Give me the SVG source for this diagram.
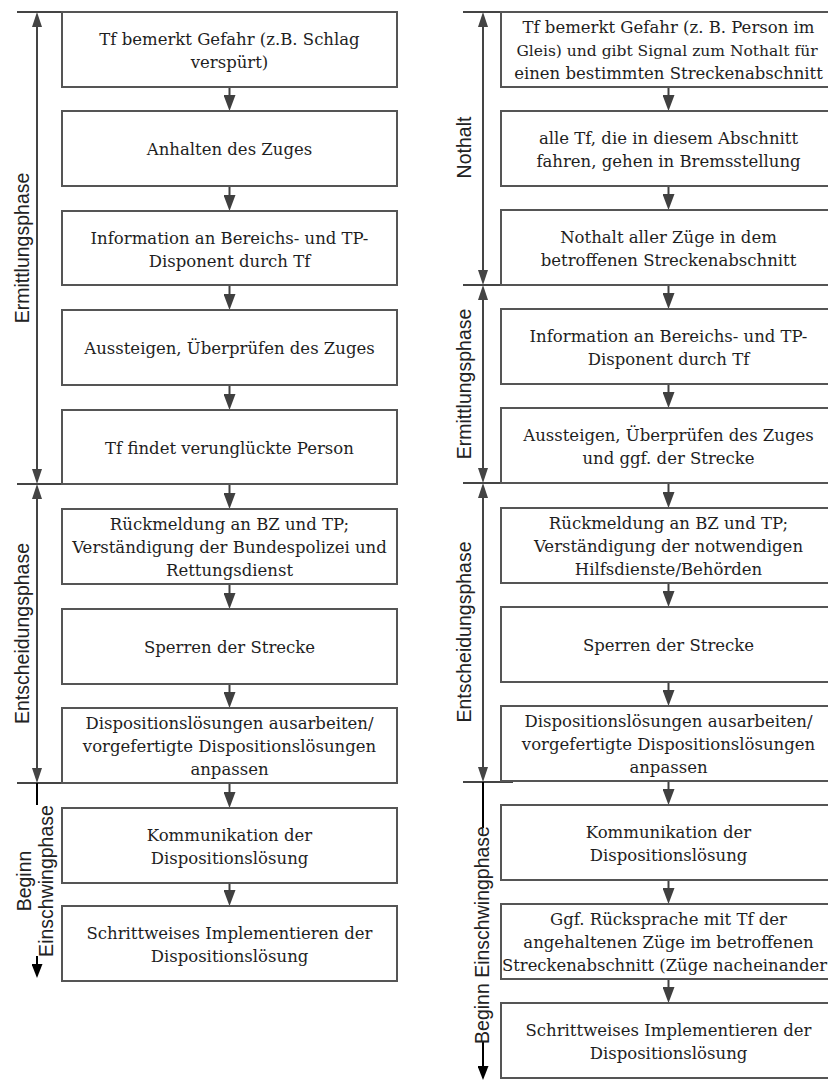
<svg xmlns="http://www.w3.org/2000/svg" width="828" height="1082" viewBox="0 0 828 1082">
<style>
.box{fill:#fff;stroke:#555;stroke-width:2}
.t{font-family:"DejaVu Serif","Liberation Serif",serif;font-size:16.5px;fill:#1e1e1e;text-anchor:middle}
.ts{font-family:"DejaVu Serif","Liberation Serif",serif;font-size:16.5px;fill:#1e1e1e;text-anchor:start}
.lbl{font-family:"Liberation Sans",Arial,sans-serif;font-size:19.5px;fill:#222;text-anchor:middle}
.flow{stroke:#404040;stroke-width:2;fill:none;marker-end:url(#ah)}
.br{stroke:#444;stroke-width:2;fill:none;marker-start:url(#bh);marker-end:url(#bh)}
.sep{stroke:#444;stroke-width:2;fill:none}
.blk{stroke:#000;stroke-width:2;fill:none}
.blka{stroke:#000;stroke-width:2;fill:none;marker-end:url(#kh)}
</style>
<defs>
<marker id="ah" viewBox="0 0 16 12" markerWidth="16" markerHeight="12" refX="10" refY="6" markerUnits="userSpaceOnUse" orient="auto"><path d="M0,0 L16,6 L0,12 z" fill="#404040"/></marker>
<marker id="bh" viewBox="0 0 15 10" markerWidth="15" markerHeight="10" refX="9" refY="5" markerUnits="userSpaceOnUse" orient="auto-start-reverse"><path d="M0,0 L15,5 L0,10 z" fill="#444"/></marker>
<marker id="kh" viewBox="0 0 14 11" markerWidth="14" markerHeight="11" refX="8" refY="5.5" markerUnits="userSpaceOnUse" orient="auto"><path d="M0,0 L14,5.5 L0,11 z" fill="#000"/></marker>
</defs>

<g id="connectors">
<path class="flow" d="M229.5,87 V105"/>
<path class="flow" d="M229.5,186 V205"/>
<path class="flow" d="M229.5,285 V304"/>
<path class="flow" d="M229.5,385 V404"/>
<path class="flow" d="M229.5,485 V503"/>
<path class="flow" d="M229.5,584 V603"/>
<path class="flow" d="M229.5,684 V702"/>
<path class="flow" d="M229.5,783 V802"/>
<path class="flow" d="M229.5,883 V900"/>
<path class="flow" d="M668.5,87 V105"/>
<path class="flow" d="M668.5,186 V204"/>
<path class="flow" d="M668.5,285 V303"/>
<path class="flow" d="M668.5,384 V402"/>
<path class="flow" d="M668.5,483 V502"/>
<path class="flow" d="M668.5,583 V601"/>
<path class="flow" d="M668.5,682 V700"/>
<path class="flow" d="M668.5,781 V799"/>
<path class="flow" d="M668.5,880 V898"/>
<path class="flow" d="M668.5,979 V997"/>
</g>

<g id="phase-brackets">
<path class="br" d="M37,18 V478"/>
<path class="br" d="M37,490 V777"/>
<path class="sep" d="M17,12 H78 M17,484 H62 M17,783 H62"/>
<path class="blk" d="M37,783 V805"/>
<path class="blka" d="M37,956 V972"/>
<path class="br" d="M483,18 V279"/>
<path class="br" d="M483,291 V477"/>
<path class="br" d="M483,489 V776"/>
<path class="sep" d="M463,12 H508 M463,285 H508 M463,483 H509 M463,782 H513"/>
<path class="blk" d="M483,782 V828"/>
<path class="blka" d="M483,1042 V1074"/>
</g>

<g id="phase-labels">
<text class="lbl" transform="translate(29,248) rotate(-90)">Ermittlungsphase</text>
<text class="lbl" transform="translate(29,633.5) rotate(-90)">Entscheidungsphase</text>
<text class="lbl" transform="translate(31,881) rotate(-90)">Beginn</text>
<text class="lbl" transform="translate(53,881) rotate(-90)">Einschwingphase</text>
<text class="lbl" transform="translate(471,147.5) rotate(-90)">Nothalt</text>
<text class="lbl" transform="translate(471,384) rotate(-90)">Ermittlungsphase</text>
<text class="lbl" transform="translate(471,632) rotate(-90)">Entscheidungsphase</text>
<text class="lbl" transform="translate(489,935) rotate(-90)">Beginn Einschwingphase</text>
</g>

<g id="L1"><rect class="box" x="62" y="12" width="335" height="75"/><text class="t" x="229.5" y="45">Tf bemerkt Gefahr (z.B. Schlag</text><text class="t" x="229.5" y="68">verspürt)</text></g>
<g id="L2"><rect class="box" x="62" y="111" width="335" height="75"/><text class="t" x="229.5" y="154.5">Anhalten des Zuges</text></g>
<g id="L3"><rect class="box" x="62" y="211" width="335" height="74"/><text class="t" x="229.5" y="244">Information an Bereichs- und TP-</text><text class="t" x="229.5" y="267">Disponent durch Tf</text></g>
<g id="L4"><rect class="box" x="62" y="310" width="335" height="75"/><text class="t" x="229.5" y="353.5">Aussteigen, Überprüfen des Zuges</text></g>
<g id="L5"><rect class="box" x="62" y="410" width="335" height="74"/><text class="t" x="229.5" y="453.5">Tf findet verunglückte Person</text></g>
<g id="L6"><rect class="box" x="62" y="509" width="335" height="75"/><text class="t" x="229.5" y="529.5">Rückmeldung an BZ und TP;</text><text class="t" x="229.5" y="552.5">Verständigung der Bundespolizei und</text><text class="t" x="229.5" y="575.5">Rettungsdienst</text></g>
<g id="L7"><rect class="box" x="62" y="609" width="335" height="75"/><text class="t" x="229.5" y="652.5">Sperren der Strecke</text></g>
<g id="L8"><rect class="box" x="62" y="708" width="335" height="75"/><text class="t" x="229.5" y="728.5">Dispositionslösungen ausarbeiten/</text><text class="t" x="229.5" y="751.5">vorgefertigte Dispositionslösungen</text><text class="t" x="229.5" y="774.5">anpassen</text></g>
<g id="L9"><rect class="box" x="62" y="808" width="335" height="75"/><text class="t" x="229.5" y="841">Kommunikation der</text><text class="t" x="229.5" y="864">Dispositionslösung</text></g>
<g id="L10"><rect class="box" x="62" y="906" width="335" height="75"/><text class="t" x="229.5" y="939">Schrittweises Implementieren der</text><text class="t" x="229.5" y="962">Dispositionslösung</text></g>

<g id="R1"><rect class="box" x="501" y="12" width="335" height="75"/><text class="t" x="668.5" y="32.5">Tf bemerkt Gefahr (z. B. Person im</text><text class="t" x="667" y="55.5" style="font-size:15.5px">Gleis) und gibt Signal zum Nothalt für</text><text class="t" x="668.5" y="78.5">einen bestimmten Streckenabschnitt</text></g>
<g id="R2"><rect class="box" x="501" y="111" width="335" height="75"/><text class="t" x="668.5" y="144">alle Tf, die in diesem Abschnitt</text><text class="t" x="668.5" y="167">fahren, gehen in Bremsstellung</text></g>
<g id="R3"><rect class="box" x="501" y="210" width="335" height="75"/><text class="t" x="668.5" y="243">Nothalt aller Züge in dem</text><text class="t" x="668.5" y="266">betroffenen Streckenabschnitt</text></g>
<g id="R4"><rect class="box" x="501" y="309" width="335" height="75"/><text class="t" x="668.5" y="342">Information an Bereichs- und TP-</text><text class="t" x="668.5" y="365">Disponent durch Tf</text></g>
<g id="R5"><rect class="box" x="501" y="408" width="335" height="75"/><text class="t" x="668.5" y="441">Aussteigen, Überprüfen des Zuges</text><text class="t" x="668.5" y="464">und ggf. der Strecke</text></g>
<g id="R6"><rect class="box" x="501" y="508" width="335" height="75"/><text class="t" x="668.5" y="528.5">Rückmeldung an BZ und TP;</text><text class="t" x="668.5" y="551.5">Verständigung der notwendigen</text><text class="t" x="668.5" y="574.5">Hilfsdienste/Behörden</text></g>
<g id="R7"><rect class="box" x="501" y="607" width="335" height="75"/><text class="t" x="668.5" y="650.5">Sperren der Strecke</text></g>
<g id="R8"><rect class="box" x="501" y="706" width="335" height="75"/><text class="t" x="668.5" y="726.5">Dispositionslösungen ausarbeiten/</text><text class="t" x="668.5" y="749.5">vorgefertigte Dispositionslösungen</text><text class="t" x="668.5" y="772.5">anpassen</text></g>
<g id="R9"><rect class="box" x="501" y="805" width="335" height="75"/><text class="t" x="668.5" y="838">Kommunikation der</text><text class="t" x="668.5" y="861">Dispositionslösung</text></g>
<g id="R10"><rect class="box" x="501" y="904" width="335" height="75"/><text class="t" x="668.5" y="924.5">Ggf. Rücksprache mit Tf der</text><text class="t" x="668.5" y="947.5">angehaltenen Züge im betroffenen</text><text class="ts" x="502" y="970.5" textLength="325" lengthAdjust="spacingAndGlyphs">Streckenabschnitt (Züge nacheinander</text></g>
<g id="R11"><rect class="box" x="501" y="1003" width="335" height="75"/><text class="t" x="668.5" y="1036">Schrittweises Implementieren der</text><text class="t" x="668.5" y="1059">Dispositionslösung</text></g>
</svg>
